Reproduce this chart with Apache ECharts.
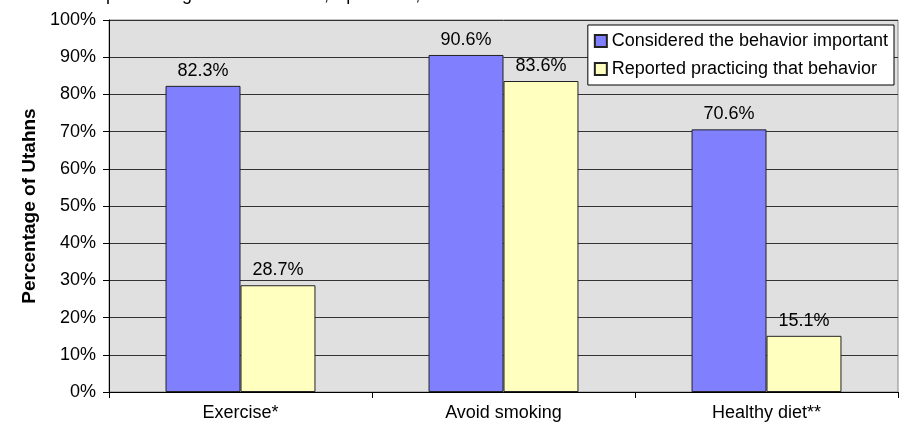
<!DOCTYPE html>
<html>
<head>
<meta charset="utf-8">
<script src="https://cdn.jsdelivr.net/npm/echarts@6/dist/echarts.min.js"></script>
<style>
  * { margin: 0; padding: 0; }
  html, body { width: 907px; height: 427px; background: #fff; overflow: hidden; }
  #chart { width: 907px; height: 427px; }
</style>
</head>
<body>
<div id="chart"></div>
<script>
// categories and values (percent of Utahns)
var categories = ["Exercise*", "Avoid smoking", "Healthy diet**"];
var importantValues = [82.3, 90.6, 70.6];
var practicingValues = [28.7, 83.6, 15.1];
var seriesNames = ["Considered the behavior important", "Reported practicing that behavior"];
var titleText = "performing these behaviors, April-June, 1996.";

var font = "Liberation Sans, Arial, sans-serif";

var labelStyle = {
  show: true,
  position: "top",
  distance: 6,
  color: "#000",
  fontFamily: font,
  fontSize: 18,
  formatter: function (p) {
    return p.value.toFixed(1) + "%";
  }
};

var chart = echarts.init(document.getElementById("chart"));
chart.setOption({
  animation: false,
  title: {
    text: titleText,
    left: 106,
    top: -14,
    padding: 0,
    textStyle: { fontFamily: font, fontSize: 18, fontWeight: "normal", color: "#000" }
  },
  grid: {
    left: 109,
    right: 9,
    top: 20,
    bottom: 35,
    show: true,
    backgroundColor: "#e0e0e0",
    borderColor: "#888",
    borderWidth: 1
  },
  legend: {
    orient: "vertical",
    right: 13,
    top: 25,
    padding: [7, 6, 7, 6],
    itemGap: 10,
    itemWidth: 12,
    itemHeight: 12,
    icon: "rect",
    backgroundColor: "#fff",
    borderColor: "#000",
    borderWidth: 1,
    textStyle: { fontFamily: font, fontSize: 18, color: "#000", padding: [0, 0, 0, 0] },
    data: seriesNames
  },
  xAxis: {
    type: "category",
    data: categories,
    axisLine: { lineStyle: { color: "#000", width: 1 } },
    axisTick: { show: true, alignWithLabel: false, length: 6, lineStyle: { color: "#000" } },
    axisLabel: { fontFamily: font, fontSize: 18, color: "#000", margin: 12 }
  },
  yAxis: {
    type: "value",
    min: 0,
    max: 100,
    interval: 10,
    name: "Percentage of Utahns",
    nameLocation: "middle",
    nameGap: 63,
    nameTextStyle: { fontFamily: font, fontSize: 19, fontWeight: "bold", color: "#000" },
    axisLine: { show: true, lineStyle: { color: "#000", width: 1 } },
    axisTick: { show: true, length: 6, lineStyle: { color: "#000" } },
    axisLabel: { fontFamily: font, fontSize: 18, color: "#000", margin: 13, formatter: "{value}%" },
    splitLine: { show: true, lineStyle: { color: "#333", width: 1 } }
  },
  series: [
    {
      name: seriesNames[0],
      type: "bar",
      data: importantValues,
      barGap: "0%",
      barCategoryGap: "43%",
      itemStyle: { color: "#8080ff", borderColor: "#222", borderWidth: 1 },
      label: labelStyle
    },
    {
      name: seriesNames[1],
      type: "bar",
      data: practicingValues,
      itemStyle: { color: "#ffffc0", borderColor: "#222", borderWidth: 1 },
      label: labelStyle
    }
  ]
});
</script>
</body>
</html>
